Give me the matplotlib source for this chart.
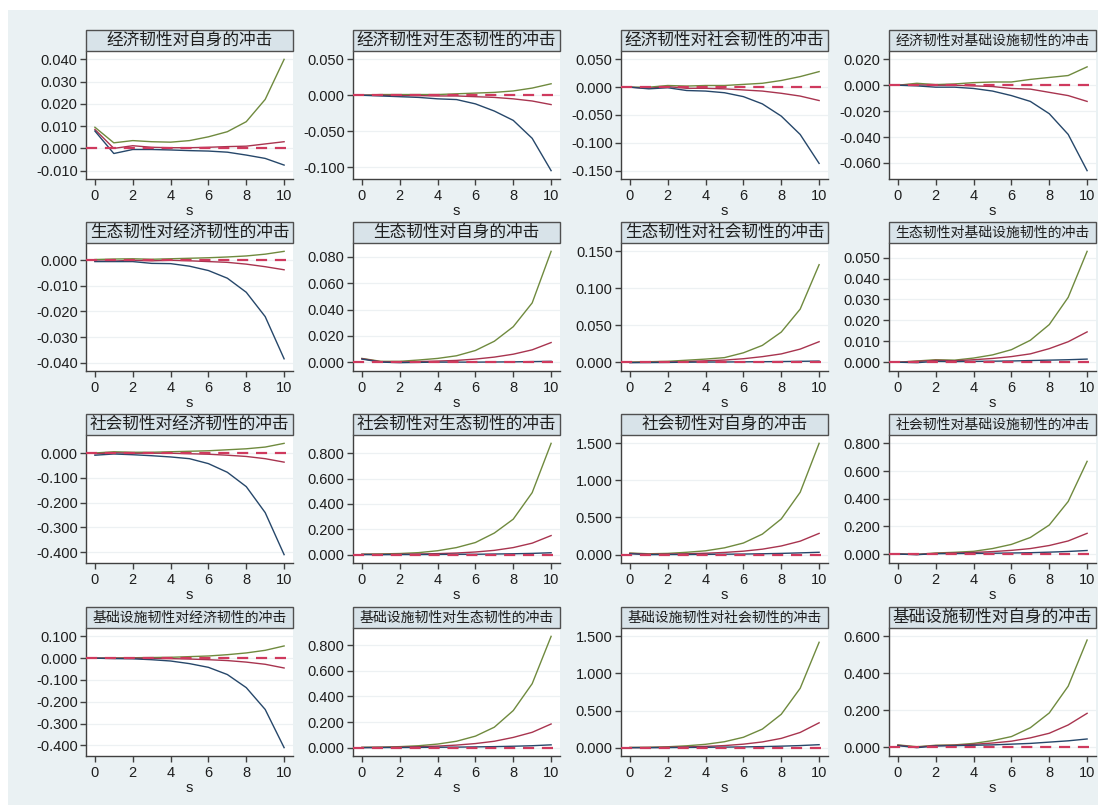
import matplotlib
matplotlib.use("Agg")
import matplotlib.pyplot as plt
from matplotlib.patches import Rectangle

plt.rcParams['font.family'] = ['Liberation Sans', 'Noto Sans CJK SC', 'DejaVu Sans']

steps = list(range(11))

titles = [
    "经济韧性对自身的冲击", "经济韧性对生态韧性的冲击", "经济韧性对社会韧性的冲击", "经济韧性对基础设施韧性的冲击",
    "生态韧性对经济韧性的冲击", "生态韧性对自身的冲击", "生态韧性对社会韧性的冲击", "生态韧性对基础设施韧性的冲击",
    "社会韧性对经济韧性的冲击", "社会韧性对生态韧性的冲击", "社会韧性对自身的冲击", "社会韧性对基础设施韧性的冲击",
    "基础设施韧性对经济韧性的冲击", "基础设施韧性对生态韧性的冲击", "基础设施韧性对社会韧性的冲击", "基础设施韧性对自身的冲击",
]

yticks = [
    [-0.01, 0.0, 0.01, 0.02, 0.03, 0.04],
    [-0.10, -0.05, 0.0, 0.05],
    [-0.15, -0.10, -0.05, 0.0, 0.05],
    [-0.06, -0.04, -0.02, 0.0, 0.02],
    [-0.04, -0.03, -0.02, -0.01, 0.0],
    [0.0, 0.02, 0.04, 0.06, 0.08],
    [0.0, 0.05, 0.10, 0.15],
    [0.0, 0.01, 0.02, 0.03, 0.04, 0.05],
    [-0.4, -0.3, -0.2, -0.1, 0.0],
    [0.0, 0.2, 0.4, 0.6, 0.8],
    [0.0, 0.5, 1.0, 1.5],
    [0.0, 0.2, 0.4, 0.6, 0.8],
    [-0.4, -0.3, -0.2, -0.1, 0.0, 0.1],
    [0.0, 0.2, 0.4, 0.6, 0.8],
    [0.0, 0.5, 1.0, 1.5],
    [0.0, 0.2, 0.4, 0.6],
]

# upper CI (green), impulse response (red), lower CI (blue)
up_11 = [0.0095, 0.0025, 0.0035, 0.0030, 0.0028, 0.0035, 0.0052, 0.0075, 0.0120, 0.0220, 0.0400]
irf_11 = [0.0085, 0.0000, 0.0012, 0.0005, 0.0003, 0.0003, 0.0005, 0.0008, 0.0010, 0.0020, 0.0030]
lo_11 = [0.0078, -0.0023, -0.0005, -0.0005, -0.0007, -0.0010, -0.0012, -0.0017, -0.0030, -0.0045, -0.0075]

up_12 = [0.0, 0.001, 0.001, 0.001, 0.001, 0.002, 0.003, 0.004, 0.006, 0.010, 0.016]
irf_12 = [0.0, 0.0, -0.0005, -0.0005, -0.001, -0.001, -0.002, -0.003, -0.005, -0.008, -0.013]
lo_12 = [0.0, -0.001, -0.002, -0.003, -0.005, -0.006, -0.012, -0.022, -0.035, -0.060, -0.105]

up_13 = [0.0, 0.0, 0.003, 0.002, 0.003, 0.003, 0.005, 0.007, 0.012, 0.019, 0.028]
irf_13 = [0.0, -0.002, 0.001, -0.002, -0.002, -0.003, -0.005, -0.007, -0.011, -0.016, -0.024]
lo_13 = [0.0, -0.003, -0.001, -0.006, -0.007, -0.010, -0.017, -0.030, -0.052, -0.085, -0.137]

up_14 = [0.0, 0.0015, 0.0005, 0.0010, 0.0020, 0.0025, 0.0025, 0.0045, 0.0060, 0.0075, 0.0142]
irf_14 = [0.0, 0.0003, 0.0, 0.0, -0.0005, -0.0010, -0.0025, -0.0030, -0.0055, -0.0080, -0.0125]
lo_14 = [0.0, -0.0005, -0.0015, -0.0015, -0.0025, -0.0045, -0.0080, -0.0125, -0.0220, -0.0380, -0.0660]

up_21 = [0.0003, 0.0005, 0.0006, 0.0004, 0.0006, 0.0008, 0.0010, 0.0013, 0.0017, 0.0024, 0.0035]
irf_21 = [-0.0003, -0.0003, 0.0, -0.0002, 0.0, -0.0002, -0.0005, -0.0008, -0.0015, -0.0025, -0.0037]
lo_21 = [-0.0005, -0.0005, -0.0005, -0.0012, -0.0013, -0.0023, -0.0040, -0.0070, -0.0125, -0.0220, -0.0385]

up_22 = [0.0030, 0.0008, 0.0008, 0.0018, 0.0030, 0.0050, 0.0090, 0.0160, 0.0270, 0.0450, 0.0840]
irf_22 = [0.0028, 0.0005, 0.0003, 0.0006, 0.0010, 0.0015, 0.0025, 0.0040, 0.0062, 0.0095, 0.0150]
lo_22 = [0.0025, 0.0002, -0.0002, 0.0, 0.0002, 0.0002, 0.0002, 0.0003, 0.0004, 0.0006, 0.0008]

up_23 = [0.0005, 0.0010, 0.0015, 0.0030, 0.0045, 0.0065, 0.0130, 0.0230, 0.0410, 0.0720, 0.1320]
irf_23 = [0.0, 0.0003, 0.0006, 0.0012, 0.0022, 0.0032, 0.0050, 0.0078, 0.0115, 0.0180, 0.0280]
lo_23 = [-0.0003, -0.0002, 0.0, 0.0003, 0.0005, 0.0006, 0.0008, 0.0010, 0.0012, 0.0015, 0.0018]

up_24 = [0.0, 0.0006, 0.0012, 0.0010, 0.0020, 0.0035, 0.0060, 0.0105, 0.0180, 0.0310, 0.0530]
irf_24 = [0.0, 0.0004, 0.0009, 0.0007, 0.0012, 0.0018, 0.0027, 0.0040, 0.0065, 0.0098, 0.0145]
lo_24 = [0.0, -0.0002, 0.0004, 0.0003, 0.0004, 0.0005, 0.0006, 0.0008, 0.0010, 0.0012, 0.0015]

up_31 = [0.001, 0.006, 0.004, 0.004, 0.006, 0.008, 0.010, 0.014, 0.018, 0.025, 0.040]
irf_31 = [-0.002, 0.002, 0.0, 0.0, 0.0, -0.002, -0.004, -0.008, -0.013, -0.022, -0.036]
lo_31 = [-0.008, -0.003, -0.006, -0.010, -0.015, -0.022, -0.042, -0.077, -0.135, -0.240, -0.410]

up_32 = [0.003, 0.005, 0.008, 0.015, 0.030, 0.055, 0.095, 0.170, 0.280, 0.490, 0.880]
irf_32 = [0.001, 0.001, 0.002, 0.004, 0.007, 0.012, 0.020, 0.033, 0.055, 0.090, 0.150]
lo_32 = [0.0, -0.001, 0.0, 0.0, 0.001, 0.002, 0.002, 0.004, 0.006, 0.009, 0.014]

up_33 = [0.020, 0.010, 0.015, 0.030, 0.050, 0.090, 0.155, 0.275, 0.480, 0.840, 1.500]
irf_33 = [0.015, 0.004, 0.006, 0.010, 0.017, 0.028, 0.045, 0.072, 0.115, 0.180, 0.285]
lo_33 = [0.010, -0.002, 0.0, 0.0, 0.002, 0.004, 0.006, 0.010, 0.015, 0.022, 0.030]

up_34 = [0.002, -0.002, 0.008, 0.013, 0.020, 0.040, 0.070, 0.120, 0.210, 0.380, 0.670]
irf_34 = [0.001, -0.003, 0.005, 0.008, 0.012, 0.018, 0.027, 0.040, 0.062, 0.095, 0.150]
lo_34 = [0.0, -0.004, 0.003, 0.004, 0.005, 0.006, 0.008, 0.010, 0.014, 0.019, 0.026]

up_41 = [0.0, 0.001, 0.002, 0.003, 0.004, 0.007, 0.010, 0.016, 0.024, 0.036, 0.056]
irf_41 = [0.0, 0.0, 0.0, -0.001, -0.002, -0.004, -0.007, -0.011, -0.018, -0.028, -0.045]
lo_41 = [0.0, -0.002, -0.003, -0.007, -0.013, -0.025, -0.042, -0.075, -0.135, -0.235, -0.410]

up_42 = [0.003, 0.004, 0.008, 0.015, 0.028, 0.050, 0.090, 0.160, 0.290, 0.500, 0.870]
irf_42 = [0.001, 0.002, 0.004, 0.007, 0.012, 0.020, 0.032, 0.050, 0.080, 0.120, 0.185]
lo_42 = [0.0, 0.001, 0.001, 0.002, 0.003, 0.004, 0.006, 0.008, 0.011, 0.015, 0.022]

up_43 = [0.003, 0.005, 0.012, 0.025, 0.045, 0.080, 0.140, 0.250, 0.450, 0.800, 1.420]
irf_43 = [0.001, 0.002, 0.005, 0.010, 0.017, 0.028, 0.047, 0.077, 0.125, 0.205, 0.335]
lo_43 = [0.0, 0.0, 0.001, 0.003, 0.005, 0.007, 0.010, 0.014, 0.020, 0.028, 0.040]

up_44 = [0.012, 0.002, 0.010, 0.012, 0.020, 0.035, 0.057, 0.105, 0.185, 0.330, 0.580]
irf_44 = [0.010, 0.0, 0.008, 0.010, 0.015, 0.022, 0.032, 0.050, 0.075, 0.120, 0.183]
lo_44 = [0.008, -0.003, 0.006, 0.008, 0.010, 0.012, 0.016, 0.020, 0.027, 0.034, 0.044]

panels = [
    (up_11, irf_11, lo_11), (up_12, irf_12, lo_12), (up_13, irf_13, lo_13), (up_14, irf_14, lo_14),
    (up_21, irf_21, lo_21), (up_22, irf_22, lo_22), (up_23, irf_23, lo_23), (up_24, irf_24, lo_24),
    (up_31, irf_31, lo_31), (up_32, irf_32, lo_32), (up_33, irf_33, lo_33), (up_34, irf_34, lo_34),
    (up_41, irf_41, lo_41), (up_42, irf_42, lo_42), (up_43, irf_43, lo_43), (up_44, irf_44, lo_44),
]

# colours / layout
C_UP = "#6F8A3E"
C_IRF = "#A8344F"
C_LO = "#26476A"
C_ZERO = "#CF3A5E"
BG = "#EAF1F3"
TITLE_BG = "#D8E3E9"
AXC = "#404040"

W, H = 1104, 810
fig = plt.figure(figsize=(W / 100, H / 100), dpi=100, facecolor="white")
fig.patches.append(Rectangle((8 / W, 1 - 805 / H), (1098 - 8) / W, (805 - 10) / H,
                             transform=fig.transFigure, facecolor=BG, edgecolor="none", zorder=-10))

col_left = [86, 353, 621, 889]
row_top = [51, 243, 435, 628]
pw, ph = 207, 128
title_h = 21

for k, (up, irf, lo) in enumerate(panels):
    r, c = divmod(k, 4)
    ax = fig.add_axes([col_left[c] / W, 1 - (row_top[r] + ph) / H, pw / W, ph / H])
    ax.set_facecolor("white")
    ticks = yticks[k]
    ax.set_yticks(ticks)
    ax.grid(axis="y", color="#EDF1F3", lw=0.9, zorder=0)
    ax.plot(steps, up, color=C_UP, lw=1.0, zorder=3)
    ax.plot(steps, irf, color=C_IRF, lw=1.0, zorder=3)
    ax.plot(steps, lo, color=C_LO, lw=1.0, zorder=3)
    ax.axhline(0, color=C_ZERO, lw=1.6, ls=(0, (5, 3.5)), zorder=4)
    lo_v = min(ticks[0], min(lo), min(irf), min(up))
    hi_v = max(ticks[-1], max(up), max(irf), max(lo))
    pad = 0.075 * (hi_v - lo_v)
    ax.set_ylim(lo_v - pad, hi_v + pad)
    ax.set_xlim(-0.47, 10.47)
    ax.set_xticks([0, 2, 4, 6, 8, 10])
    ax.yaxis.set_major_formatter(matplotlib.ticker.FormatStrFormatter("%.3f"))
    for s in ["top", "right"]:
        ax.spines[s].set_visible(False)
    for s in ["left", "bottom"]:
        ax.spines[s].set_color(AXC)
        ax.spines[s].set_linewidth(1.0)
    ax.tick_params(axis="both", direction="out", length=4, width=1.0, color=AXC,
                   labelsize=10.5, labelcolor="#1E1E1E", pad=2)
    ax.tick_params(axis="x", pad=3)
    ax.set_xlabel("s", fontsize=10.5, color="#1E1E1E", labelpad=1)
    th = title_h / ph
    ax.add_patch(Rectangle((0, 1), 1, th, transform=ax.transAxes, clip_on=False,
                           facecolor=TITLE_BG, edgecolor="#505050", lw=1.0, zorder=5))
    fs = 10 if len(titles[k]) >= 14 else 12
    ax.text(0.5, 1 + th / 2, titles[k], transform=ax.transAxes, ha="center", va="center",
            fontsize=fs, color="#1E1E1E", family=["Noto Sans CJK SC", "DejaVu Sans"], zorder=6)

fig.savefig("out.png", dpi=100, facecolor="white")
